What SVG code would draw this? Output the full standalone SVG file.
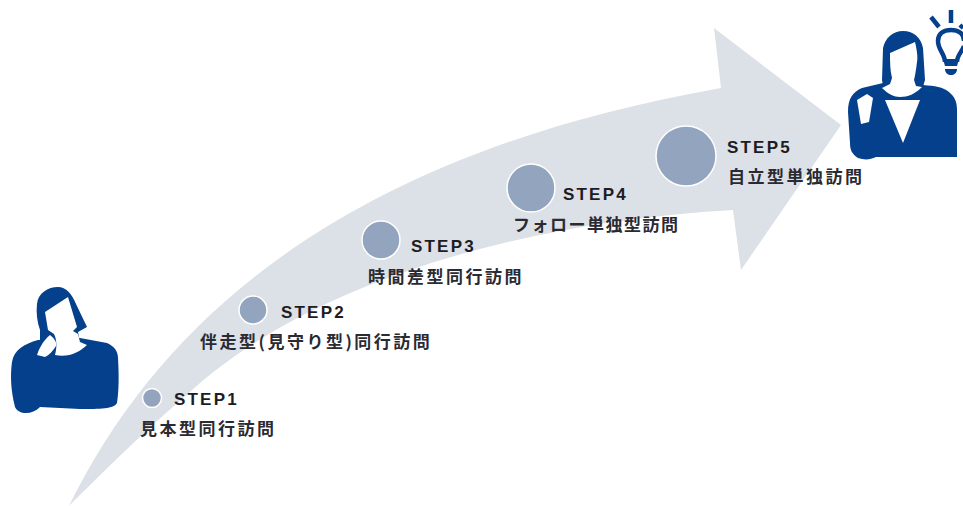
<svg xmlns="http://www.w3.org/2000/svg" width="963" height="506" viewBox="0 0 963 506">
<style>
.ic{fill:#04408c}
.cut{fill:#fff}
.dot{fill:#93a5be;stroke:#fff;stroke-width:1.5}
.ln{fill:none;stroke:#04408c;stroke-width:4.5}
.st{font-family:"Liberation Sans",Arial,sans-serif;font-weight:700;font-size:17px;letter-spacing:2.2px;fill:#1c1c24}
.jp{font-family:"Noto Sans CJK JP",sans-serif;font-weight:700;font-size:17px;letter-spacing:2.5px;fill:#2a2a32}
.tight{letter-spacing:1.5px}
</style>
<rect width="963" height="506" fill="#fff"/>
<g id="arrow"><path d="M69 506C170 300 370 150 721 88L714 28L841 125L741 270L733 210C480 225 290 300 190 392C140 435 100 475 69 506Z" fill="#dce0e7"/></g>
<g id="person-start">
<path class="ic" d="M15 407C11 392 10 376 12 362C14 350 24 344 38 340L80 338L107 343C114 346 118 351 118 358C119 375 119 390 117 403C114 409 100 409 80 409L40 407C36 411 31 413 26 413C21 413 17 411 15 407Z"/>
<path class="ic" d="M37 304C38 293 48 287 58 287C66 287 72 294 76 304L87 327L78 332L80 342L40 340L40 330C37 322 36 312 37 304Z"/>
<path class="cut" d="M45 312L68 297L77 327L73 331L78 334L80 342L87 345C80 352 68 358 55 355C57 348 57 340 54 334L48 330Z"/>
<path class="cut" d="M50 335C54 338 57 342 56 346C53 351 49 355 45 357L37 355C39 349 42 342 50 335Z"/>
</g>
<g id="person-goal">
<path class="ic" d="M848 112C848 98 853 92 862 88L883 83L923 85C935 86 943 87 949 92C955 97 957 102 957 110L957 157L876 157C870 160 864 160 858 158C852 154 850 150 850 143Z"/>
<path class="ic" d="M882 80L883 48C885 38 893 31 903 31C914 31 921 38 923 48L925 80L922 90L884 90Z"/>
<path class="cut" d="M890 53L915 42C917 50 918 58 917 62C916 70 915 76 914 80L916 86L922 87C915 94 908 97 900 97C894 97 888 94 882 88L890 84L892 78C890 70 890 62 890 53Z"/>
<path class="cut" d="M885 100L920 100L903 143Z"/>
<path class="cut" d="M857 100L867 94L873 98L869 122L861 124Z"/>
<path class="ln" d="M945 62C945 54 938 50 938 41C938 33 944 30 951 30C958 30 964 33 964 41"/>
<path class="ln" d="M957 62C957 55 962 52 964 46"/>
<path class="ic" d="M943 59L959 59L957 66L945 66Z"/>
<path class="ln" d="M931 17L939 27M951 10L951 23M963 25L960 28"/>
<path class="ic" d="M945 69L957 69C957 73 954 75 951 75C948 75 945 73 945 69Z"/>
</g>
<g id="step1"><circle class="dot" cx="152" cy="398" r="9.5"/><text class="st" x="174" y="405">STEP1</text><text class="jp" x="140" y="435">見本型同行訪問</text></g>
<g id="step2"><circle class="dot" cx="253" cy="310" r="14"/><text class="st" x="281" y="318">STEP2</text><text class="jp" x="200" y="348">伴走型(見守り型)同行訪問</text></g>
<g id="step3"><circle class="dot" cx="381" cy="240" r="19"/><text class="st" x="411" y="252">STEP3</text><text class="jp" x="368" y="283">時間差型同行訪問</text></g>
<g id="step4"><circle class="dot" cx="531" cy="188" r="24"/><text class="st" x="563" y="200">STEP4</text><text class="jp tight" x="513" y="231">フォロー単独型訪問</text></g>
<g id="step5"><circle class="dot" cx="686" cy="156" r="30"/><text class="st" x="727" y="153">STEP5</text><text class="jp" x="728" y="183">自立型単独訪問</text></g>
</svg>
